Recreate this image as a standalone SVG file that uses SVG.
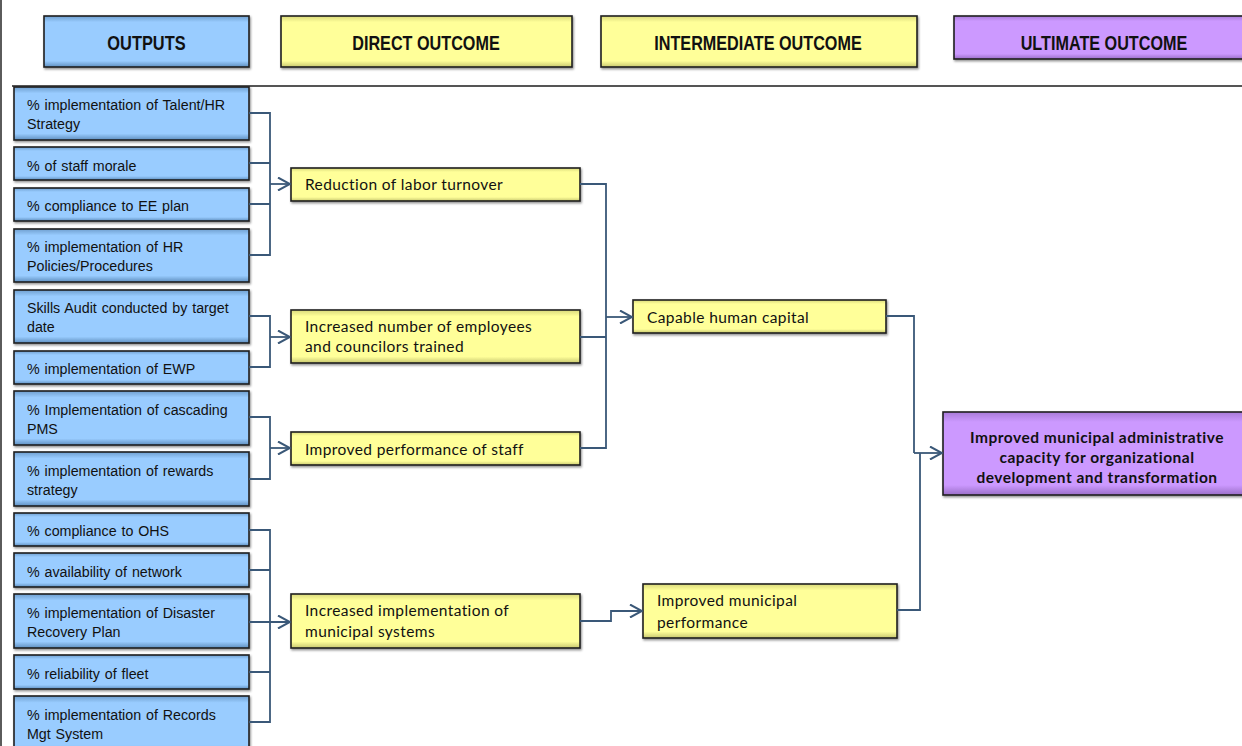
<svg xmlns="http://www.w3.org/2000/svg" width="1242" height="746" viewBox="0 0 1242 746">
<defs>
<linearGradient id="gBlue" x1="0" y1="0" x2="0" y2="1">
<stop offset="0" stop-color="#6f9fcf"/><stop offset="0.12" stop-color="#99ccff"/><stop offset="0.88" stop-color="#99ccff"/><stop offset="1" stop-color="#5f8fbf"/>
</linearGradient>
<linearGradient id="gYellow" x1="0" y1="0" x2="0" y2="1">
<stop offset="0" stop-color="#d8d87a"/><stop offset="0.12" stop-color="#ffff99"/><stop offset="0.88" stop-color="#ffff99"/><stop offset="1" stop-color="#c8c870"/>
</linearGradient>
<linearGradient id="gPurple" x1="0" y1="0" x2="0" y2="1">
<stop offset="0" stop-color="#a87ad8"/><stop offset="0.12" stop-color="#cc99ff"/><stop offset="0.88" stop-color="#cc99ff"/><stop offset="1" stop-color="#9a6ec8"/>
</linearGradient>
<filter id="sh" x="-5%" y="-10%" width="110%" height="130%">
<feDropShadow dx="1" dy="1.5" stdDeviation="1" flood-color="#000" flood-opacity="0.45"/>
</filter>
<marker id="arr" viewBox="0 0 14 14" refX="13" refY="7" markerWidth="14" markerHeight="14" markerUnits="userSpaceOnUse" orient="auto">
<path d="M1,0.5 L13,7 L1,13.5" fill="none" stroke="#3a5878" stroke-width="2"/>
</marker>
</defs>
<style>
.blue{fill:url(#gBlue);stroke:#1e1e1e;stroke-width:1.6;filter:url(#sh)}
.yel{fill:url(#gYellow);stroke:#1e1e1e;stroke-width:1.6;filter:url(#sh)}
.pur{fill:url(#gPurple);stroke:#1e1e1e;stroke-width:1.6;filter:url(#sh)}
.hd{font-family:"Liberation Sans",Arial,sans-serif;font-weight:bold;font-size:20px;fill:#111;text-anchor:middle}
.ot{font-family:"Liberation Sans",Arial,sans-serif;font-size:15.5px;fill:#111;word-spacing:1px}
.yt{font-family:Lato,"Liberation Sans",sans-serif;font-size:15.5px;letter-spacing:0.4px;fill:#111}
.pt{font-family:Lato,"Liberation Sans",sans-serif;font-size:15.5px;letter-spacing:0.5px;font-weight:bold;fill:#111;text-anchor:middle}
.cn{fill:none;stroke:#3a5878;stroke-width:1.8}
.frame{fill:none;stroke:#333;stroke-width:1.6}
</style>
<rect width="1242" height="746" fill="#fff"/>
<g id="frame">
<line class="frame" x1="1" y1="0" x2="1" y2="746"/>
<line x1="12" y1="86" x2="1242" y2="86" stroke="#555" stroke-width="2"/>
</g>
<g id="h-outputs"><rect class="blue" x="44" y="16" width="205" height="51"/><text class="hd" transform="matrix(0.82 0 0 1 146.5 49.5)">OUTPUTS</text></g>
<g id="h-direct"><rect class="yel" x="281" y="16" width="291" height="51"/><text class="hd" transform="matrix(0.81 0 0 1 426 49.5)">DIRECT OUTCOME</text></g>
<g id="h-inter"><rect class="yel" x="601" y="16" width="316" height="51"/><text class="hd" transform="matrix(0.81 0 0 1 758 49.5)">INTERMEDIATE OUTCOME</text></g>
<g id="h-ultimate"><rect class="pur" x="954" y="16" width="300" height="43"/><text class="hd" transform="matrix(0.81 0 0 1 1104 49.5)">ULTIMATE OUTCOME</text></g>

<g id="o1"><rect class="blue" x="14" y="87" width="235" height="53"/><text class="ot" transform="matrix(0.92 0 0 1 27 110)">% implementation of Talent/HR<tspan x="0" dy="19.5">Strategy</tspan></text></g>
<g id="o2"><rect class="blue" x="14" y="147" width="235" height="33"/><text class="ot" transform="matrix(0.92 0 0 1 27 170.5)">% of staff morale</text></g>
<g id="o3"><rect class="blue" x="14" y="188" width="235" height="33"/><text class="ot" transform="matrix(0.92 0 0 1 27 211)">% compliance  to EE plan</text></g>
<g id="o4"><rect class="blue" x="14" y="229" width="235" height="53"/><text class="ot" transform="matrix(0.92 0 0 1 27 252)">% implementation of HR<tspan x="0" dy="19.5">Policies/Procedures</tspan></text></g>
<g id="o5"><rect class="blue" x="14" y="290" width="235" height="53"/><text class="ot" transform="matrix(0.92 0 0 1 27 313)">Skills  Audit conducted by target<tspan x="0" dy="19.5">date</tspan></text></g>
<g id="o6"><rect class="blue" x="14" y="351" width="235" height="33"/><text class="ot" transform="matrix(0.92 0 0 1 27 374)">% implementation of EWP</text></g>
<g id="o7"><rect class="blue" x="14" y="391" width="235" height="54"/><text class="ot" transform="matrix(0.92 0 0 1 27 414.5)">% Implementation of  cascading<tspan x="0" dy="19.5">PMS</tspan></text></g>
<g id="o8"><rect class="blue" x="14" y="452" width="235" height="54"/><text class="ot" transform="matrix(0.92 0 0 1 27 475.5)">% implementation of rewards<tspan x="0" dy="19.5">strategy</tspan></text></g>
<g id="o9"><rect class="blue" x="14" y="513" width="235" height="33"/><text class="ot" transform="matrix(0.92 0 0 1 27 536)">% compliance  to OHS</text></g>
<g id="o10"><rect class="blue" x="14" y="553" width="235" height="34"/><text class="ot" transform="matrix(0.92 0 0 1 27 576.5)">% availability  of network</text></g>
<g id="o11"><rect class="blue" x="14" y="594" width="235" height="54"/><text class="ot" transform="matrix(0.92 0 0 1 27 617.5)">% implementation of Disaster<tspan x="0" dy="19.5">Recovery Plan</tspan></text></g>
<g id="o12"><rect class="blue" x="14" y="655" width="235" height="34"/><text class="ot" transform="matrix(0.92 0 0 1 27 678.5)">% reliability  of fleet</text></g>
<g id="o13"><rect class="blue" x="14" y="696" width="235" height="56"/><text class="ot" transform="matrix(0.92 0 0 1 27 719.5)">% implementation of Records<tspan x="0" dy="19.5">Mgt System</tspan></text></g>

<g id="d1"><rect class="yel" x="291" y="168" width="289" height="33"/><text class="yt" x="305" y="190">Reduction of labor turnover</text></g>
<g id="d2"><rect class="yel" x="291" y="310" width="289" height="53"/><text class="yt" x="305" y="332">Increased number of employees<tspan x="305" dy="20">and councilors trained</tspan></text></g>
<g id="d3"><rect class="yel" x="291" y="432" width="289" height="33"/><text class="yt" x="305" y="455">Improved performance of staff</text></g>
<g id="d4"><rect class="yel" x="291" y="594" width="289" height="54"/><text class="yt" x="305" y="616">Increased implementation of<tspan x="305" dy="21">municipal systems</tspan></text></g>

<g id="i1"><rect class="yel" x="633" y="300" width="253" height="33"/><text class="yt" x="647" y="323">Capable  human capital</text></g>
<g id="i2"><rect class="yel" x="643" y="584" width="254" height="54"/><text class="yt" x="657" y="606">Improved municipal<tspan x="657" dy="22">performance</tspan></text></g>

<g id="u1"><rect class="pur" x="943" y="412" width="310" height="83"/><text class="pt" x="1097" y="443">Improved municipal  administrative<tspan x="1097" dy="20">capacity for organizational</tspan><tspan x="1097" dy="20">development and transformation</tspan></text></g>

<g id="connectors">
<path class="cn" d="M249,113 H270 V255 H249 M249,163 H270 M249,204 H270"/>
<path class="cn" d="M270,184 H290" marker-end="url(#arr)"/>
<path class="cn" d="M249,316 H270 V367 H249"/>
<path class="cn" d="M270,337 H290" marker-end="url(#arr)"/>
<path class="cn" d="M249,417 H270 V479 H249"/>
<path class="cn" d="M270,448 H290" marker-end="url(#arr)"/>
<path class="cn" d="M249,530 H270 V722 H249 M249,570 H270 M249,672 H270"/>
<path class="cn" d="M249,622 H290" marker-end="url(#arr)"/>
<path class="cn" d="M580,184 H606 V448 H580 M580,337 H606"/>
<path class="cn" d="M606,317 H632" marker-end="url(#arr)"/>
<path class="cn" d="M580,621 H611 V611 H642" marker-end="url(#arr)"/>
<path class="cn" d="M886,316 H914 V453 M897,610 H920 V453"/>
<path class="cn" d="M914,453 H942" marker-end="url(#arr)"/>
</g>
</svg>
